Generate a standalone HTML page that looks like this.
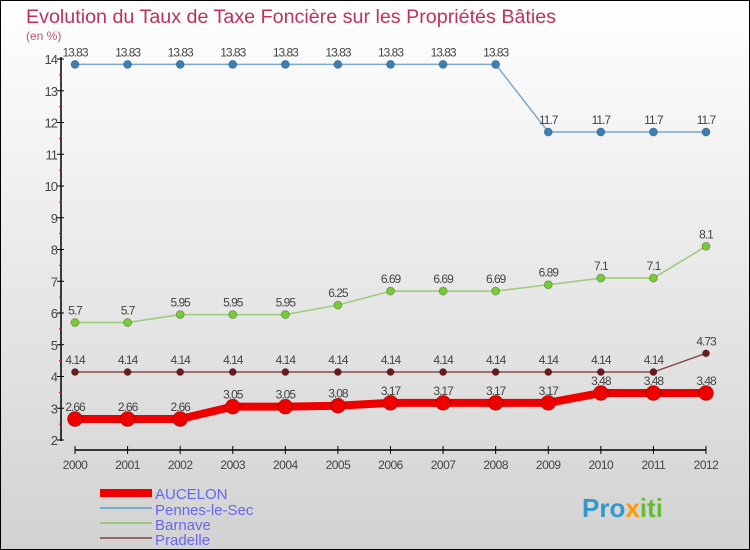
<!DOCTYPE html>
<html><head><meta charset="utf-8"><style>
body{margin:0;width:750px;height:550px;overflow:hidden}
svg{display:block;font-family:"Liberation Sans",sans-serif}
</style></head><body>
<svg id="c" width="750" height="550">
<defs><linearGradient id="bg" x1="0" y1="0" x2="0" y2="1"><stop offset="0" stop-color="#ffffff"/><stop offset="1" stop-color="#d2d2d2"/></linearGradient></defs>
<rect x="0.5" y="0.5" width="749" height="549" fill="url(#bg)" stroke="#000"/>
<text x="26" y="23" font-size="19.7" fill="#c0305a">Evolution du Taux de Taxe Foncière sur les Propriétés Bâties</text>
<text x="26" y="40" font-size="12" fill="#c0507a">(en %)</text>
<g id="axes"></g><g id="series"></g>
<g>
<rect x="100" y="489" width="52" height="8" fill="#ee0000"/>
<text x="155" y="499" font-size="15" fill="#6666ee">AUCELON</text>
<line x1="100" y1="508" x2="152" y2="508" stroke="#7aaad0" stroke-width="2"/>
<text x="155" y="515" font-size="15" fill="#6666ee">Pennes-le-Sec</text>
<line x1="100" y1="523" x2="152" y2="523" stroke="#99cc77" stroke-width="2"/>
<text x="155" y="530" font-size="15" fill="#6666ee">Barnave</text>
<line x1="100" y1="538" x2="152" y2="538" stroke="#996666" stroke-width="2"/>
<text x="155" y="545" font-size="15" fill="#6666ee">Pradelle</text>
</g>
<text x="582" y="517" font-size="26" font-weight="bold" fill="#3399cc">Pro<tspan fill="#ff9900">x</tspan><tspan fill="#66bb33">iti</tspan></text>
</svg>
<script>
const years=[2000,2001,2002,2003,2004,2005,2006,2007,2008,2009,2010,2011,2012];
const aucelon=[2.66,2.66,2.66,3.05,3.05,3.08,3.17,3.17,3.17,3.17,3.48,3.48,3.48];
const pennes=[13.83,13.83,13.83,13.83,13.83,13.83,13.83,13.83,13.83,11.7,11.7,11.7,11.7];
const barnave=[5.7,5.7,5.95,5.95,5.95,6.25,6.69,6.69,6.69,6.89,7.1,7.1,8.1];
const pradelle=[4.14,4.14,4.14,4.14,4.14,4.14,4.14,4.14,4.14,4.14,4.14,4.14,4.73];
const yTicks=[2,3,4,5,6,7,8,9,10,11,12,13,14];
const NS="http://www.w3.org/2000/svg";
const X=i=>75+i*(631/12), Y=v=>440-(v-2)*31.75;
function mk(p,t,a){const e=document.createElementNS(NS,t);for(const k in a)e.setAttribute(k,a[k]);p.appendChild(e);return e;}
const ax=document.getElementById('axes');
let e=mk(ax,'line',{x1:61,y1:Y(14)-2,x2:61,y2:Y(2)+1,stroke:'#000','stroke-width':1.5});


e=mk(ax,'line',{x1:75,y1:450,x2:706,y2:450,stroke:'#000','stroke-width':1.5});


yTicks.forEach(v=>{
 mk(ax,'line',{x1:57,y1:Y(v),x2:64,y2:Y(v),stroke:'#000'});
 if(v<14)mk(ax,'line',{x1:59,y1:Y(v+0.5),x2:62,y2:Y(v+0.5),stroke:'#e00'});
 const t=mk(ax,'text',{x:57,y:Y(v)+5,'font-size':13,'text-anchor':'end',fill:'#444','letter-spacing':'-1'});
 t.textContent=v;
 
 
});
years.forEach((y,i)=>{
 mk(ax,'line',{x1:X(i),y1:446,x2:X(i),y2:454,stroke:'#000'});
 const t=mk(ax,'text',{x:X(i),y:469,'font-size':12,'text-anchor':'middle',fill:'#444','letter-spacing':'-0.5'});
 t.textContent=y;
 
 
});
const sg=document.getElementById('series');
function series(d,name,col,dot,w,r){
 const g=mk(sg,'g',{});
 
 
 const l=mk(g,'polyline',{points:d.map((v,i)=>X(i)+','+Y(v)).join(' '),fill:'none',stroke:col,'stroke-width':w});
 
 
 d.forEach((v,i)=>{
  const c=mk(g,'circle',{cx:X(i),cy:Y(v),r:r,fill:dot,stroke:'rgba(0,0,0,0.25)'});
  
  
  const t=mk(g,'text',{x:X(i),y:Y(v)-8,'font-size':12,'text-anchor':'middle',fill:'#444','letter-spacing':'-1'});
  t.textContent=v;
  
  
 });
}
series(pennes,'pennes','#7aaad0','#3a80b8',1.5,4);
series(barnave,'barnave','#99cc77','#77cc33',1.5,4);
series(pradelle,'pradelle','#8b4a4a','#6b1a1a',1.5,3.5);
series(aucelon,'aucelon','#ee0000','#ee0000',8,7.5);
</script>
</body></html>
